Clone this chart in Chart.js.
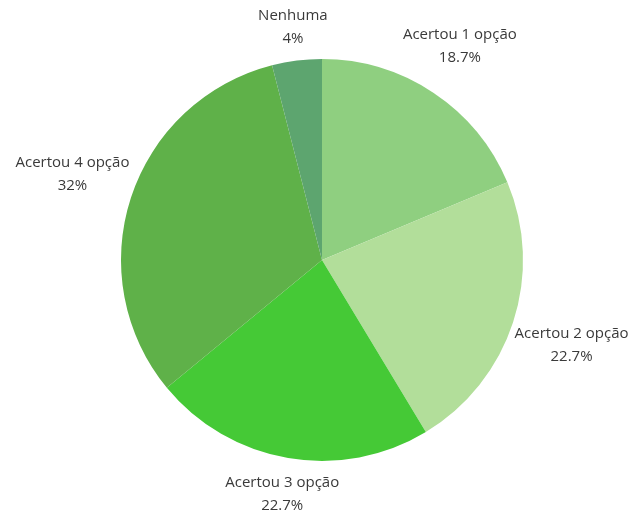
<!DOCTYPE html>
<html>
<head>
<meta charset="utf-8">
<script src="https://cdn.jsdelivr.net/npm/chart.js@4.4.1/dist/chart.umd.min.js"></script>
<style>
  html, body { margin: 0; padding: 0; background: #fff; }
  #wrap { width: 635px; height: 511px; }
</style>
</head>
<body>
<div id="wrap"><canvas id="pie"></canvas></div>
<script>
const labels = ['Acertou 1 opção', 'Acertou 2 opção', 'Acertou 3 opção', 'Acertou 4 opção', 'Nenhuma'];
const values = [18.7, 22.7, 22.7, 32, 4];
const colors = ['#8fcf80', '#b2de9a', '#45c936', '#5fb149', '#5da56f'];

// outside labels: name on one line, percentage below
const outsideLabels = {
  id: 'outsideLabels',
  afterDatasetsDraw(chart) {
    const { ctx } = chart;
    const meta = chart.getDatasetMeta(0);
    ctx.save();
    ctx.font = '15px "Open Sans", sans-serif';
    ctx.fillStyle = '#3a3a3a';
    ctx.textAlign = 'center';
    ctx.textBaseline = 'middle';
    meta.data.forEach((arc, i) => {
      const { x, y, startAngle, endAngle, outerRadius } = arc.getProps(['x', 'y', 'startAngle', 'endAngle', 'outerRadius'], true);
      const mid = (startAngle + endAngle) / 2;
      const c = Math.cos(mid), s = Math.sin(mid);
      const halfW = ctx.measureText(labels[i]).width / 2;
      const dist = outerRadius + 29 + 0.6 * halfW * Math.abs(c);
      const lx = x + c * dist;
      const ly = y + s * dist + s * 14 * Math.abs(c);
      ctx.fillText(labels[i], lx, ly - 11.5);
      ctx.fillText(values[i] + '%', lx, ly + 11.5);
    });
    ctx.restore();
  }
};

new Chart(document.getElementById('pie'), {
  type: 'pie',
  data: {
    labels,
    datasets: [{ data: values, backgroundColor: colors, borderWidth: 0 }]
  },
  options: {
    responsive: true,
    maintainAspectRatio: false,
    animation: false,
    layout: { padding: { top: 59, bottom: 50, left: 100, right: 91 } },
    plugins: { legend: { display: false }, tooltip: { enabled: false } }
  },
  plugins: [outsideLabels]
});
</script>
</body>
</html>
